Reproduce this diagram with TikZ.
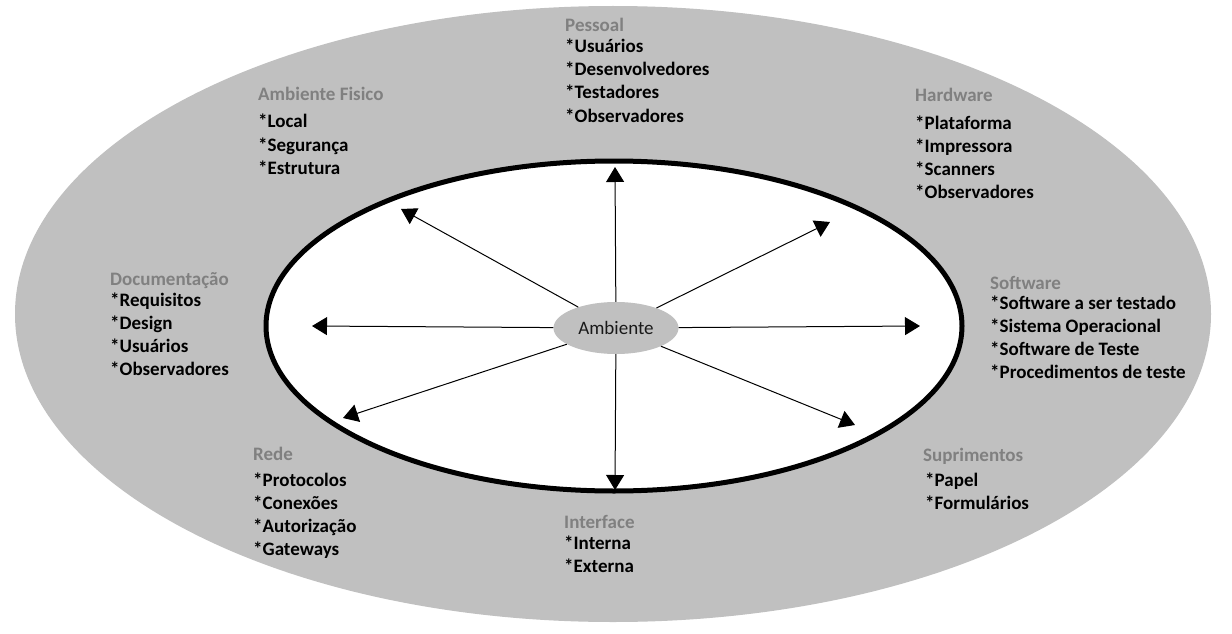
\documentclass[tikz,border=0pt]{standalone}
\usepackage{fontspec}
\setmainfont{Carlito}
\usetikzlibrary{arrows.meta,shapes.geometric}
\definecolor{cinza}{RGB}{192,192,192}
\definecolor{titulo}{RGB}{128,128,128}
\begin{document}
\begin{tikzpicture}[x=1pt,y=-1pt,
	titulo/.style={anchor=base west, inner sep=0, font=\fontsize{19}{23}\selectfont\bfseries, text=titulo},
	item/.style={anchor=base west, inner sep=0, font=\fontsize{19}{23}\selectfont\bfseries},
	seta/.style={line width=1pt, -{Triangle[length=15pt,width=18pt]}}]
			\useasboundingbox[fill=white] (0,0) rectangle (1232,634);
			\fill[cinza] (613,314) ellipse [x radius=598pt, y radius=308pt];
			\draw[line width=5pt, fill=white] (614,326) ellipse [x radius=348pt, y radius=165pt];
			\node[ellipse, fill=cinza, minimum width=125pt, minimum height=52pt, inner sep=0,
				font=\fontsize{19}{22}\selectfont, text=black!90] (amb) at (616,328) {Ambiente};
			% pontas das setas
			\coordinate (cima) at (615,167);
			\coordinate (baixo) at (615,490);
			\coordinate (esq) at (312,326);
			\coordinate (dir) at (920,326);
			\coordinate (ce) at (401,209);
			\coordinate (cd) at (830,222);
			\coordinate (be) at (343,418);
			\coordinate (bd) at (855,425);
			\foreach \p in {cima,baixo,esq,dir,ce,cd,be,bd}
				\draw[seta] (amb) -- (\p);
			% Pessoal
			\node[titulo] (pes) at (565,32) {Pessoal};
			\foreach \t [count=\i] in {Usuários,Desenvolvedores,Testadores,Observadores}
				\node[item] (pes-\i) at (565,{53+23*(\i-1)}) {*\t};
			% Ambiente Fisico
			\node[titulo] (fis) at (258,100) {Ambiente Fisico};
			\foreach \t [count=\i] in {Local,Segurança,Estrutura}
				\node[item] (fis-\i) at (258,{128+23*(\i-1)}) {*\t};
			% Hardware
			\node[titulo] (hw) at (915,102) {Hardware};
			\foreach \t [count=\i] in {Plataforma,Impressora,Scanners,Observadores}
				\node[item] (hw-\i) at (915,{129+23*(\i-1)}) {*\t};
			% Documentacao
			\node[titulo] (doc) at (110,285) {Documentação};
			\foreach \t [count=\i] in {Requisitos,Design,Usuários,Observadores}
				\node[item] (doc-\i) at (110,{306+23*(\i-1)}) {*\t};
			% Software
			\node[titulo] (sw) at (990,289) {Software};
			\foreach \t [count=\i] in {Software a ser testado,Sistema Operacional,Software de Teste,Procedimentos de teste}
				\node[item] (sw-\i) at (990,{309+23*(\i-1)}) {*\t};
			% Rede
			\node[titulo] (rede) at (253,460) {Rede};
			\foreach \t [count=\i] in {Protocolos,Conexões,Autorização,Gateways}
				\node[item] (rede-\i) at (253,{486+23*(\i-1)}) {*\t};
			% Suprimentos
			\node[titulo] (sup) at (923,461) {Suprimentos};
			\foreach \t [count=\i] in {Papel,Formulários}
				\node[item] (sup-\i) at (925,{486+23*(\i-1)}) {*\t};
			% Interface
			\node[titulo] (int) at (564,528) {Interface};
			\foreach \t [count=\i] in {Interna,Externa}
				\node[item] (int-\i) at (564,{549+23*(\i-1)}) {*\t};
\end{tikzpicture}
\end{document}
